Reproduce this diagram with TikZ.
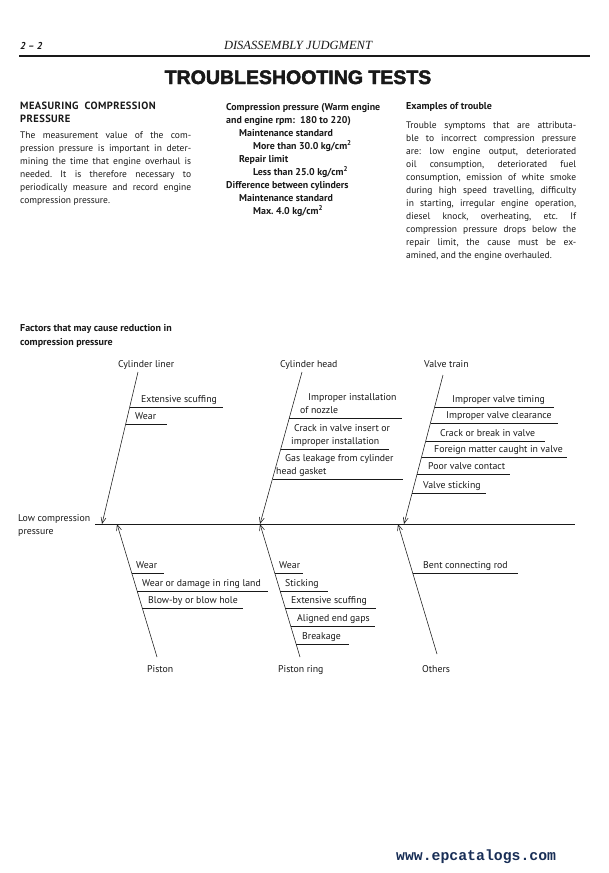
\documentclass[tikz,border=0pt]{standalone}
\usepackage{fontspec}
\setmainfont{PT Sans}
\newfontfamily\titlefont[BoldFeatures={FakeBold=2.4}]{Liberation Sans}
\newfontfamily\runfont{Liberation Serif}
\newfontfamily\webfont{Liberation Mono}
\usetikzlibrary{arrows.meta}
\definecolor{inkblack}{RGB}{25,25,25}
\definecolor{webnavy}{RGB}{24,46,86}
\tikzset{
  pagenum/.style={
    anchor=base west, inner sep=0pt,
    font=\fontsize{10}{12}\selectfont\bfseries\itshape
  },
  runhead/.style={
    anchor=base, inner sep=0pt,
    font=\runfont\fontsize{12.5}{14}\selectfont\itshape
  },
  pagetitle/.style={
    anchor=base, inner sep=0pt,
    font=\titlefont\fontsize{19.5}{22}\selectfont\bfseries
  },
  colhead/.style={
    anchor=base west, inner sep=0pt, align=left,
    font=\fontsize{10.5}{13.5}\selectfont\bfseries
  },
  colbody/.style={
    anchor=base west, inner sep=0pt, align=justify,
    font=\fontsize{9.5}{13}\selectfont
  },
  specbody/.style={
    anchor=base west, inner sep=0pt, align=left,
    font=\fontsize{9.9}{13}\selectfont\bfseries
  },
  causelabel/.style={
    anchor=base west, inner sep=0pt, align=left,
    font=\fontsize{9.8}{13}\selectfont
  },
  bonearrow/.style={
    -{Straight Barb[length=6pt,width=5pt]},
    draw=inkblack, line width=0.55pt
  },
  branchline/.style={
    draw=inkblack, line width=0.65pt
  },
  spineline/.style={
    draw=inkblack, line width=0.8pt
  },
  pagerule/.style={
    draw=inkblack, line width=1.1pt
  },
}
\frenchspacing

\begin{document}
\begin{tikzpicture}[x=1pt, y=-1pt, text=inkblack]

  \path[fill=white, use as bounding box] (0,0) rectangle (608,873);

  %% Running head
  \node[pagenum] (pnum) at (20,49) {2 -- 2};
  \node[runhead] (runhd) at (298,49) {DISASSEMBLY JUDGMENT};
  \coordinate (ruleL) at (19,56);
  \coordinate (ruleR) at (590,56);
  \draw[pagerule] (ruleL) -- (ruleR);

  \node[pagetitle] (title) at (298,84) {TROUBLESHOOTING TESTS};

  %% Left column (multi-line nodes sit on their last baseline)
  \node[colhead] (meas) at (20,122.5)
    {\addfontfeature{LetterSpace=4}MEASURING\ \ COMPRESSION\\
     \addfontfeature{LetterSpace=4}PRESSURE};
  \node[colbody, text width=171pt] (measbody) at (20,138.5)
    {The measurement value of the com-\linebreak
     pression pressure is important in deter-\linebreak
     mining the time that engine overhaul is\linebreak
     needed. It is therefore necessary to\linebreak
     periodically measure and record engine\linebreak
     compression pressure.};

  %% Middle column
  \node[specbody] (cpspec) at (226,214)
    {Compression pressure (Warm engine\\
     and engine rpm:\ \ 180 to 220)\\
     \hspace*{13pt}Maintenance standard\\
     \hspace*{27pt}More than 30.0 kg/cm\textsuperscript{2}\\
     \hspace*{13pt}Repair limit\\
     \hspace*{27pt}Less than 25.0 kg/cm\textsuperscript{2}\\
     Difference between cylinders\\
     \hspace*{13pt}Maintenance standard\\
     \hspace*{27pt}Max. 4.0 kg/cm\textsuperscript{2}};

  %% Right column
  \node[colhead, font=\fontsize{10}{13}\selectfont\bfseries] (examples)
    at (406,109) {Examples of trouble};
  \node[colbody, text width=170pt] (exbody) at (406,128)
    {Trouble symptoms that are attributa-\linebreak
     ble to incorrect compression pressure\linebreak
     are: low engine output, deteriorated\linebreak
     oil consumption, deteriorated fuel\linebreak
     consumption, emission of white smoke\linebreak
     during high speed travelling, difficulty\linebreak
     in starting, irregular engine operation,\linebreak
     diesel knock, overheating, etc. If\linebreak
     compression pressure drops below the\linebreak
     repair limit, the cause must be ex-\linebreak
     amined, and the engine overhauled.};

  %% Fishbone
  \node[colhead, font=\fontsize{10}{14}\selectfont\bfseries] (factors)
    at (20,345) {Factors that may cause reduction in\\compression pressure};

  \node[causelabel] (effect) at (18,534) {Low compression\\pressure};
  \coordinate (spineL) at (95,524);
  \coordinate (spineR) at (575,524);
  \draw[spineline] (spineL) -- (spineR);

  %% Upper bones
  \node[causelabel] (liner) at (118,367.5) {Cylinder liner};
  \coordinate (linertop) at (138,372);
  \coordinate (linertip) at (102,524);
  \draw[bonearrow] (linertop) -- (linertip);

  \node[causelabel] (liner1) at (141,402) {Extensive scuffing};
  \draw[branchline] (130,407) -- (223,407);
  \node[causelabel] (liner2) at (135,419) {Wear};
  \draw[branchline] (126,424) -- (167,424);

  \node[causelabel] (head) at (280,367.5) {Cylinder head};
  \coordinate (headtop) at (302,372);
  \coordinate (headtip) at (260,524);
  \draw[bonearrow] (headtop) -- (headtip);

  \node[causelabel] (head1) at (300,413.5)
    {\hspace*{8pt}Improper installation\\of nozzle};
  \draw[branchline] (289,418) -- (402,418);
  \node[causelabel] (head2) at (291,444.5)
    {\hspace*{3pt}Crack in valve insert or\\improper installation};
  \draw[branchline] (281,449) -- (389,449);
  \node[causelabel] (head3) at (276,474)
    {\hspace*{9pt}Gas leakage from cylinder\\head gasket};
  \draw[branchline] (272.5,479) -- (403,479);

  \node[causelabel] (valve) at (424,367.5) {Valve train};
  \coordinate (valvetop) at (443,375);
  \coordinate (valvetip) at (404,524);
  \draw[bonearrow] (valvetop) -- (valvetip);

  \node[causelabel] (valve1) at (452,402) {Improper valve timing};
  \draw[branchline] (434.5,407) -- (554,407);
  \node[causelabel] (valve2) at (446,418) {Improper valve clearance};
  \draw[branchline] (430.5,423) -- (558,423);
  \node[causelabel] (valve3) at (440,436) {Crack or break in valve};
  \draw[branchline] (425.5,441) -- (545,441);
  \node[causelabel] (valve4) at (434,452) {Foreign matter caught in valve};
  \draw[branchline] (421.5,457) -- (567,457);
  \node[causelabel] (valve5) at (428,469) {Poor valve contact};
  \draw[branchline] (417,474) -- (510,474);
  \node[causelabel] (valve6) at (423,488) {Valve sticking};
  \draw[branchline] (412,493) -- (486,493);

  %% Lower bones
  \node[causelabel] (piston) at (147,672.5) {Piston};
  \coordinate (pistonbot) at (157,657);
  \coordinate (pistontip) at (117,524);
  \draw[bonearrow] (pistonbot) -- (pistontip);

  \node[causelabel] (piston1) at (136,568) {Wear};
  \draw[branchline] (131.5,573) -- (164,573);
  \node[causelabel] (piston2) at (142,586) {Wear or damage in ring land};
  \draw[branchline] (137,591) -- (268,591);
  \node[causelabel] (piston3) at (148,603) {Blow-by or blow hole};
  \draw[branchline] (142,608) -- (243,608);

  \node[causelabel] (ring) at (278,672.5) {Piston ring};
  \coordinate (ringbot) at (300,657);
  \coordinate (ringtip) at (260,524);
  \draw[bonearrow] (ringbot) -- (ringtip);

  \node[causelabel] (ring1) at (279,568) {Wear};
  \draw[branchline] (274.5,573) -- (303,573);
  \node[causelabel] (ring2) at (285,586) {Sticking};
  \draw[branchline] (280,591) -- (328,591);
  \node[causelabel] (ring3) at (291,603) {Extensive scuffing};
  \draw[branchline] (285,608) -- (376,608);
  \node[causelabel] (ring4) at (297,621) {Aligned end gaps};
  \draw[branchline] (290.5,626) -- (375,626);
  \node[causelabel] (ring5) at (302,639) {Breakage};
  \draw[branchline] (296,644) -- (349,644);

  \node[causelabel] (others) at (422,672.5) {Others};
  \coordinate (othersbot) at (437,654);
  \coordinate (otherstip) at (398,524);
  \draw[bonearrow] (othersbot) -- (otherstip);

  \node[causelabel] (others1) at (423,568) {Bent connecting rod};
  \draw[branchline] (412.5,573) -- (518,573);

  %% Watermark
  \node[anchor=base west, inner sep=0pt, text=webnavy,
        font=\webfont\fontsize{14.8}{16}\selectfont\bfseries] (web)
    at (396,860) {www.epcatalogs.com};

\end{tikzpicture}
\end{document}
